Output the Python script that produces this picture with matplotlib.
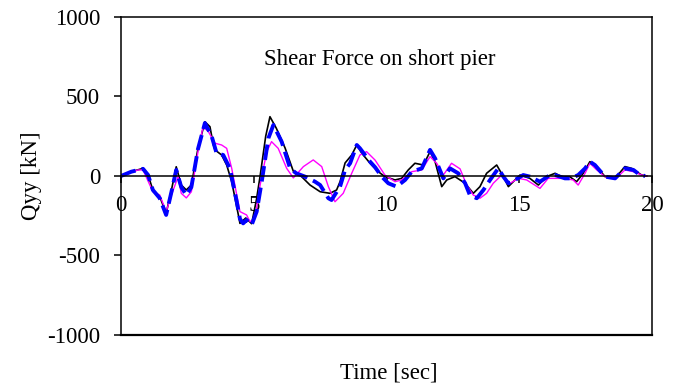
import matplotlib
matplotlib.use("Agg")
import matplotlib.pyplot as plt

plt.rcParams['font.family'] = ['Liberation Serif', 'DejaVu Serif']

# time history data (t [sec], Qyy [kN])
black_t = [0, 0.39, 0.83, 1.02, 1.2, 1.46, 1.7, 1.9, 2.08, 2.27, 2.46, 2.65, 2.9, 3.16,
           3.35, 3.48, 3.54, 3.79, 3.98, 4.17, 4.42, 4.48, 4.7, 4.92, 5.1, 5.24, 5.45,
           5.61, 5.85, 6.18, 6.49, 6.74, 7.12, 7.5, 7.87, 8.12, 8.25, 8.44, 8.69, 8.88,
           9.07, 9.38, 9.69, 9.94, 10.32, 10.57, 10.82, 11.07, 11.39, 11.64, 11.83,
           12.08, 12.27, 12.58, 12.96, 13.27, 13.52, 13.77, 14.15, 14.4, 14.59, 14.84,
           15.03, 15.4, 15.72, 16.03, 16.35, 16.6, 16.9, 17.16, 17.41, 17.66, 17.92,
           18.23, 18.61, 18.98, 19.23, 19.61, 19.8]
black_q = [0, 27, 48, 6, -88, -130, -235, -88, 58, -57, -88, -57, 174, 341,
           310, 195, 164, 132, 69, -36, -245, -298, -264, -300, -150, 0, 250,
           373, 300, 176, 30, 6, -57, -99, -109, -88, -36, 82, 132, 195,
           143, 80, 27, -4, -25, -15, 38, 80, 69, 153, 90,
           -67, -25, -4, -46, -109, -67, 17, 69, -4, -67, -25,
           6, -15, -57, -4, 17, -4, -4, -36, 17, 90, 59,
           -4, -15, 59, 48, 6, 0]

magenta_t = [0, 0.64, 0.83, 1.2, 1.46, 1.7, 1.9, 2.15, 2.27, 2.46, 2.65, 2.9, 3.09,
             3.29, 3.54, 3.79, 3.98, 4.17, 4.36, 4.48, 4.73, 4.86, 5.05, 5.24, 5.49,
             5.67, 5.92, 6.24, 6.49, 6.87, 7.24, 7.56, 7.81, 8.06, 8.37, 8.69, 9.0,
             9.25, 9.57, 9.94, 10.32, 10.57, 10.95, 11.33, 11.64, 11.89, 12.14, 12.45,
             12.77, 13.02, 13.27, 13.52, 13.77, 14.02, 14.34, 14.65, 14.97, 15.28,
             15.78, 16.09, 16.35, 16.72, 17.03, 17.22, 17.48, 17.66, 17.92, 18.23,
             18.61, 18.98, 19.3, 19.61, 19.8]
magenta_q = [0, 38, 38, -99, -120, -224, -120, -4, -109, -138, -99, 153, 310,
             279, 206, 195, 174, 48, -120, -224, -245, -287, -266, -57, 153,
             216, 174, 48, -12, 59, 101, 59, -67, -162, -109, 17, 132,
             153, 100, 6, -36, -25, 27, 38, 122, 80, 6, 80,
             45, -57, -120, -140, -109, -46, 6, -46, -15, -25,
             -78, -15, -15, -15, -25, -57, 17, 80, 38, -4,
             -20, 38, 27, 6, 0]

blue_t = [0, 0.39, 0.83, 1.02, 1.2, 1.46, 1.7, 1.9, 2.08, 2.27, 2.46, 2.65, 2.9, 3.16,
          3.42, 3.6, 3.85, 4.1, 4.36, 4.48, 4.6, 4.73, 4.92, 5.11, 5.3, 5.55, 5.74,
          6.05, 6.37, 6.6, 6.93, 7.31, 7.5, 7.81, 7.93, 8.25, 8.44, 8.63, 8.88, 9.0,
          9.38, 9.57, 9.82, 10.07, 10.38, 10.7, 10.95, 11.33, 11.64, 11.83, 12.14,
          12.39, 12.7, 12.96, 13.14, 13.4, 13.65, 13.9, 14.21, 14.4, 14.59, 14.84,
          15.15, 15.4, 15.78, 16.16, 16.35, 16.72, 16.95, 17.22, 17.48, 17.66, 17.85,
          18.23, 18.61, 18.98, 19.3, 19.55, 19.74]
blue_q = [0, 27, 45, 6, -88, -140, -245, -100, 38, -70, -120, -70, 170, 333,
          247, 143, 132, 48, -162, -270, -298, -277, -308, -224, -36, 237, 321,
          216, 48, 17, -4, -36, -57, -140, -151, -67, 38, 80, 195, 174,
          90, 55, -4, -46, -67, -25, 27, 48, 164, 111, -15,
          48, 17, -45, -120, -140, -88, -25, 48, -4, -46, -25,
          6, -4, -36, 6, 6, -15, -15, 6, 48, 90, 69,
          -4, -15, 48, 38, 6, 0]

x_ticks = [0, 5, 10, 15, 20]
y_ticks = [-1000, -500, 0, 500, 1000]

fs = 16.5

fig = plt.figure(figsize=(6.73, 3.85), dpi=100)
ax = fig.add_axes([0.1798, 0.1299, 0.789, 0.826])

ax.plot(black_t, black_q, color="black", lw=1.2, solid_joinstyle="round")
ax.plot(magenta_t, magenta_q, color="#ff00ff", lw=1.0, solid_joinstyle="round")
ax.plot(blue_t, blue_q, color="#0000ff", lw=2.8, dashes=(4, 1.6),
        dash_capstyle="butt")

ax.set_xlim(0, 20)
ax.set_ylim(-1000, 1000)
ax.set_xticks(x_ticks)
ax.set_yticks(y_ticks)
ax.set_yticklabels([str(v) for v in y_ticks])

# x axis sits on the zero line, frame kept all round
ax.spines['bottom'].set_position(('data', 0))
for s in ax.spines.values():
    s.set_linewidth(1.1)
ax.plot([0, 1], [0, 0], transform=ax.transAxes, color="black", lw=1.6,
        clip_on=False)

ax.tick_params(axis='y', direction='out', length=5, width=1.1, pad=10,
               labelsize=fs)
ax.tick_params(axis='x', direction='out', length=5, width=1.1, pad=9,
               labelsize=fs)

ax.text(9.75, 730, "Shear Force on short pier", ha="center", va="center",
        fontsize=fs)
ax.set_ylabel("Qyy [kN]", fontsize=fs)
ax.yaxis.set_label_coords(-0.148, 0.5)
ax.set_xlabel("Time [sec]", fontsize=fs)
ax.xaxis.set_label_coords(0.505, -0.088)

fig.savefig("out.png", dpi=100)
